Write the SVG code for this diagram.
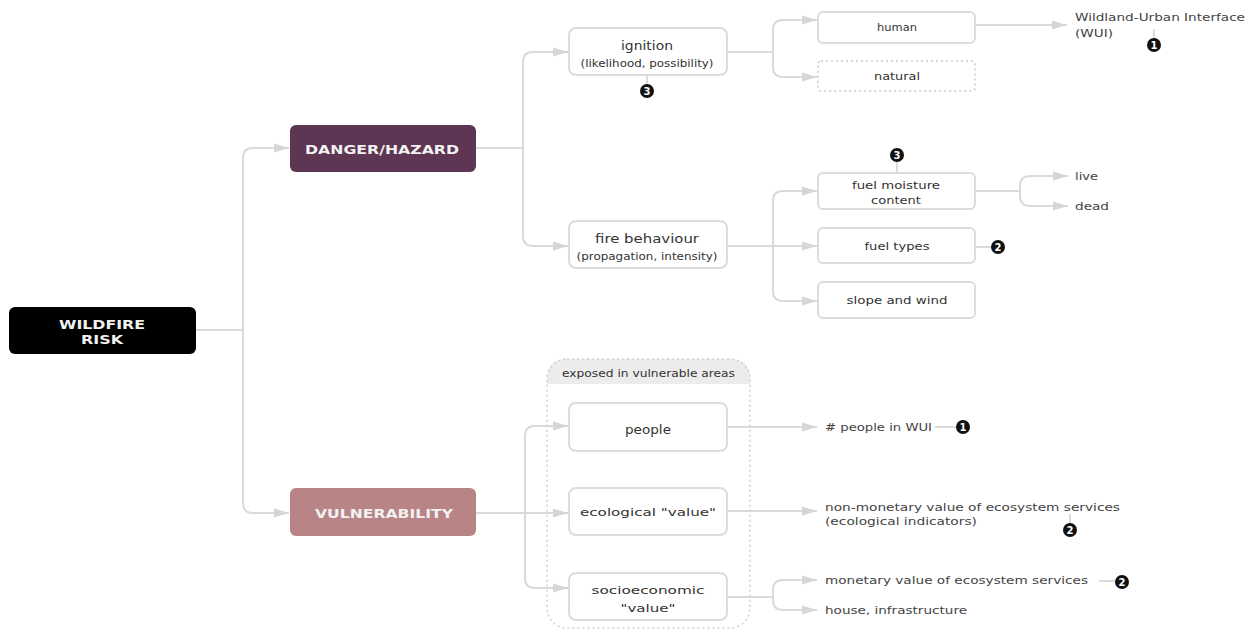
<svg xmlns="http://www.w3.org/2000/svg" width="1260" height="641" viewBox="0 0 1260 641">
<defs>
<style>
.bg{fill:#ffffff}
.box{fill:#ffffff;stroke:#dcdcdc;stroke-width:2}
.dotbox{fill:#ffffff;stroke:#d6d6d6;stroke-width:2;stroke-dasharray:2 3}
.cont{fill:none;stroke:#d0d0d0;stroke-width:1.5;stroke-dasharray:2 3}
.hdr{fill:#ececec}
.conn{fill:none;stroke:#dadada;stroke-width:2}
.tick{fill:none;stroke:#cfcfcf;stroke-width:1.5}
.t{font-family:"DejaVu Sans","Liberation Sans",sans-serif;fill:#333;font-size:11px}
.tb{font-size:13px}
.ts{font-size:10px}
.lbl{font-family:"DejaVu Sans","Liberation Sans",sans-serif;fill:#444;font-size:11px}
.main{font-family:"DejaVu Sans","Liberation Sans",sans-serif;fill:#f2f2f2;font-size:13px;font-weight:bold}
.badge{fill:#111}
.bn{font-family:"DejaVu Sans","Liberation Sans",sans-serif;fill:#fff;font-size:10px;font-weight:bold}
</style>
<marker id="arr" markerUnits="userSpaceOnUse" markerWidth="16" markerHeight="12" refX="15" refY="6" orient="auto">
<path d="M0,1.5 L15,6 L0,10.5 Z" fill="#d6d6d6"/>
</marker>
</defs>
<rect class="bg" x="0" y="0" width="1260" height="641"/>

<g id="connectors">
<path class="conn" d="M196,330 H243 V158 Q243,148 253,148 H289" marker-end="url(#arr)"/>
<path class="conn" d="M243,330 V503 Q243,513 253,513 H289" marker-end="url(#arr)"/>
<path class="conn" d="M476,148 H523 V62 Q523,52 533,52 H568" marker-end="url(#arr)"/>
<path class="conn" d="M523,148 V236 Q523,246 533,246 H568" marker-end="url(#arr)"/>
<path class="conn" d="M727,52 H773 V30 Q773,20 783,20 H817" marker-end="url(#arr)"/>
<path class="conn" d="M773,52 V67 Q773,77 783,77 H817" marker-end="url(#arr)"/>
<path class="conn" d="M975,25 H1067" marker-end="url(#arr)"/>
<path class="conn" d="M727,246 H817" marker-end="url(#arr)"/>
<path class="conn" d="M773,246 V201 Q773,191 783,191 H817" marker-end="url(#arr)"/>
<path class="conn" d="M773,246 V291 Q773,301 783,301 H817" marker-end="url(#arr)"/>
<path class="conn" d="M975,191 H1020 V186 Q1020,176 1030,176 H1068" marker-end="url(#arr)"/>
<path class="conn" d="M1020,191 V196 Q1020,206 1030,206 H1068" marker-end="url(#arr)"/>
<path class="conn" d="M476,513 H568" marker-end="url(#arr)"/>
<path class="conn" d="M525,513 V436 Q525,426 535,426 H568" marker-end="url(#arr)"/>
<path class="conn" d="M525,513 V578 Q525,588 535,588 H568" marker-end="url(#arr)"/>
<path class="conn" d="M727,427 H817" marker-end="url(#arr)"/>
<path class="conn" d="M727,511 H817" marker-end="url(#arr)"/>
<path class="conn" d="M727,597 H773 V590 Q773,580 783,580 H817" marker-end="url(#arr)"/>
<path class="conn" d="M773,597 V600 Q773,610 783,610 H817" marker-end="url(#arr)"/>
<path class="tick" d="M647,75 V84"/>
<path class="tick" d="M1154,29 V38"/>
<path class="tick" d="M897,162 V173"/>
<path class="tick" d="M975,247 H991"/>
<path class="tick" d="M935,427 H956"/>
<path class="tick" d="M1070,514 V523"/>
<path class="tick" d="M1099,581 H1115"/>
</g>

<g id="container-exposed">
<path class="hdr" d="M547,384 V379 Q547,359 567,359 H730 Q750,359 750,379 V384 Z"/>
<rect class="cont" x="547" y="359" width="203" height="269" rx="20"/>
<text class="t ts" x="648.5" y="376.5" text-anchor="middle" textLength="173" lengthAdjust="spacingAndGlyphs">exposed in vulnerable areas</text>
</g>

<g id="wildfire-risk">
<rect x="9" y="307" width="187" height="47" rx="6" fill="#000"/>
<text class="main" x="102" y="329" text-anchor="middle" font-size="12" textLength="86" lengthAdjust="spacingAndGlyphs">WILDFIRE</text>
<text class="main" x="102" y="344" text-anchor="middle" font-size="12" textLength="42" lengthAdjust="spacingAndGlyphs">RISK</text>
</g>

<g id="danger-hazard">
<rect x="290" y="125" width="186" height="47" rx="6" fill="#5e3552"/>
<text class="main" x="382" y="154" text-anchor="middle" textLength="154" lengthAdjust="spacingAndGlyphs">DANGER/HAZARD</text>
</g>

<g id="vulnerability">
<rect x="290" y="488" width="186" height="48" rx="6" fill="#b98486"/>
<text class="main" x="384" y="518" text-anchor="middle" textLength="138" lengthAdjust="spacingAndGlyphs">VULNERABILITY</text>
</g>

<g id="ignition">
<rect class="box" x="569" y="28" width="158" height="47" rx="7"/>
<text class="t tb" x="647" y="49.5" text-anchor="middle" textLength="52" lengthAdjust="spacingAndGlyphs">ignition</text>
<text class="t ts" x="647" y="66.5" text-anchor="middle" textLength="133" lengthAdjust="spacingAndGlyphs">(likelihood, possibility)</text>
</g>

<g id="fire-behaviour">
<rect class="box" x="569" y="221" width="158" height="47" rx="7"/>
<text class="t tb" x="647" y="242.5" text-anchor="middle" textLength="104" lengthAdjust="spacingAndGlyphs">fire behaviour</text>
<text class="t ts" x="647" y="259.5" text-anchor="middle" textLength="141" lengthAdjust="spacingAndGlyphs">(propagation, intensity)</text>
</g>

<g id="human">
<rect class="box" x="818" y="12" width="157" height="31" rx="5"/>
<text class="t" x="897" y="31" text-anchor="middle" textLength="40" lengthAdjust="spacingAndGlyphs">human</text>
</g>

<g id="natural">
<rect class="dotbox" x="818" y="61" width="157" height="30" rx="3"/>
<text class="t" x="897" y="80" text-anchor="middle" textLength="46" lengthAdjust="spacingAndGlyphs">natural</text>
</g>

<g id="wui">
<text class="lbl" x="1075" y="21" textLength="170" lengthAdjust="spacingAndGlyphs">Wildland-Urban Interface</text>
<text class="lbl" x="1075" y="37" textLength="38" lengthAdjust="spacingAndGlyphs">(WUI)</text>
<circle class="badge" cx="1154" cy="45" r="7"/>
<text class="bn" x="1154" y="48.6" text-anchor="middle">1</text>
</g>

<g id="badge-ignition">
<circle class="badge" cx="647" cy="91" r="7"/>
<text class="bn" x="647" y="94.6" text-anchor="middle">3</text>
</g>

<g id="fuel-moisture">
<rect class="box" x="818" y="173" width="157" height="36" rx="5"/>
<text class="t" x="896" y="189" text-anchor="middle" textLength="88" lengthAdjust="spacingAndGlyphs">fuel moisture</text>
<text class="t" x="896" y="204" text-anchor="middle" textLength="50" lengthAdjust="spacingAndGlyphs">content</text>
<circle class="badge" cx="897" cy="155" r="7"/>
<text class="bn" x="897" y="158.6" text-anchor="middle">3</text>
</g>

<g id="fuel-types">
<rect class="box" x="818" y="228" width="157" height="35" rx="5"/>
<text class="t" x="897" y="250" text-anchor="middle" textLength="65" lengthAdjust="spacingAndGlyphs">fuel types</text>
<circle class="badge" cx="998" cy="247" r="7"/>
<text class="bn" x="998" y="250.6" text-anchor="middle">2</text>
</g>

<g id="slope-wind">
<rect class="box" x="818" y="282" width="157" height="36" rx="5"/>
<text class="t" x="897" y="304" text-anchor="middle" textLength="101" lengthAdjust="spacingAndGlyphs">slope and wind</text>
</g>

<g id="live">
<text class="lbl" x="1075" y="180" textLength="23" lengthAdjust="spacingAndGlyphs">live</text>
</g>
<g id="dead">
<text class="lbl" x="1075" y="210" textLength="34" lengthAdjust="spacingAndGlyphs">dead</text>
</g>

<g id="people">
<rect class="box" x="569" y="403" width="158" height="48" rx="7"/>
<text class="t tb" x="648" y="434" text-anchor="middle" textLength="46" lengthAdjust="spacingAndGlyphs">people</text>
</g>

<g id="ecological">
<rect class="box" x="569" y="488" width="158" height="47" rx="7"/>
<text class="t" x="648" y="516" text-anchor="middle" font-size="12" textLength="136" lengthAdjust="spacingAndGlyphs">ecological "value"</text>
</g>

<g id="socioeconomic">
<rect class="box" x="569" y="573" width="158" height="47" rx="7"/>
<text class="t" x="648" y="594" text-anchor="middle" font-size="12" textLength="113" lengthAdjust="spacingAndGlyphs">socioeconomic</text>
<text class="t" x="648" y="612" text-anchor="middle" font-size="12" textLength="55" lengthAdjust="spacingAndGlyphs">"value"</text>
</g>

<g id="people-in-wui">
<text class="lbl" x="825" y="431" font-size="10" textLength="107" lengthAdjust="spacingAndGlyphs"># people in WUI</text>
<circle class="badge" cx="963" cy="427" r="7"/>
<text class="bn" x="963" y="430.6" text-anchor="middle">1</text>
</g>

<g id="non-monetary">
<text class="lbl" x="825" y="511" font-size="10" textLength="295" lengthAdjust="spacingAndGlyphs">non-monetary value of ecosystem services</text>
<text class="lbl" x="825" y="525" font-size="10" textLength="152" lengthAdjust="spacingAndGlyphs">(ecological indicators)</text>
<circle class="badge" cx="1070" cy="530" r="7"/>
<text class="bn" x="1070" y="533.6" text-anchor="middle">2</text>
</g>

<g id="monetary">
<text class="lbl" x="825" y="584" font-size="10" textLength="263" lengthAdjust="spacingAndGlyphs">monetary value of ecosystem services</text>
<circle class="badge" cx="1122" cy="582" r="7"/>
<text class="bn" x="1122" y="585.6" text-anchor="middle">2</text>
</g>

<g id="house">
<text class="lbl" x="825" y="614" font-size="10" textLength="142" lengthAdjust="spacingAndGlyphs">house, infrastructure</text>
</g>
</svg>
